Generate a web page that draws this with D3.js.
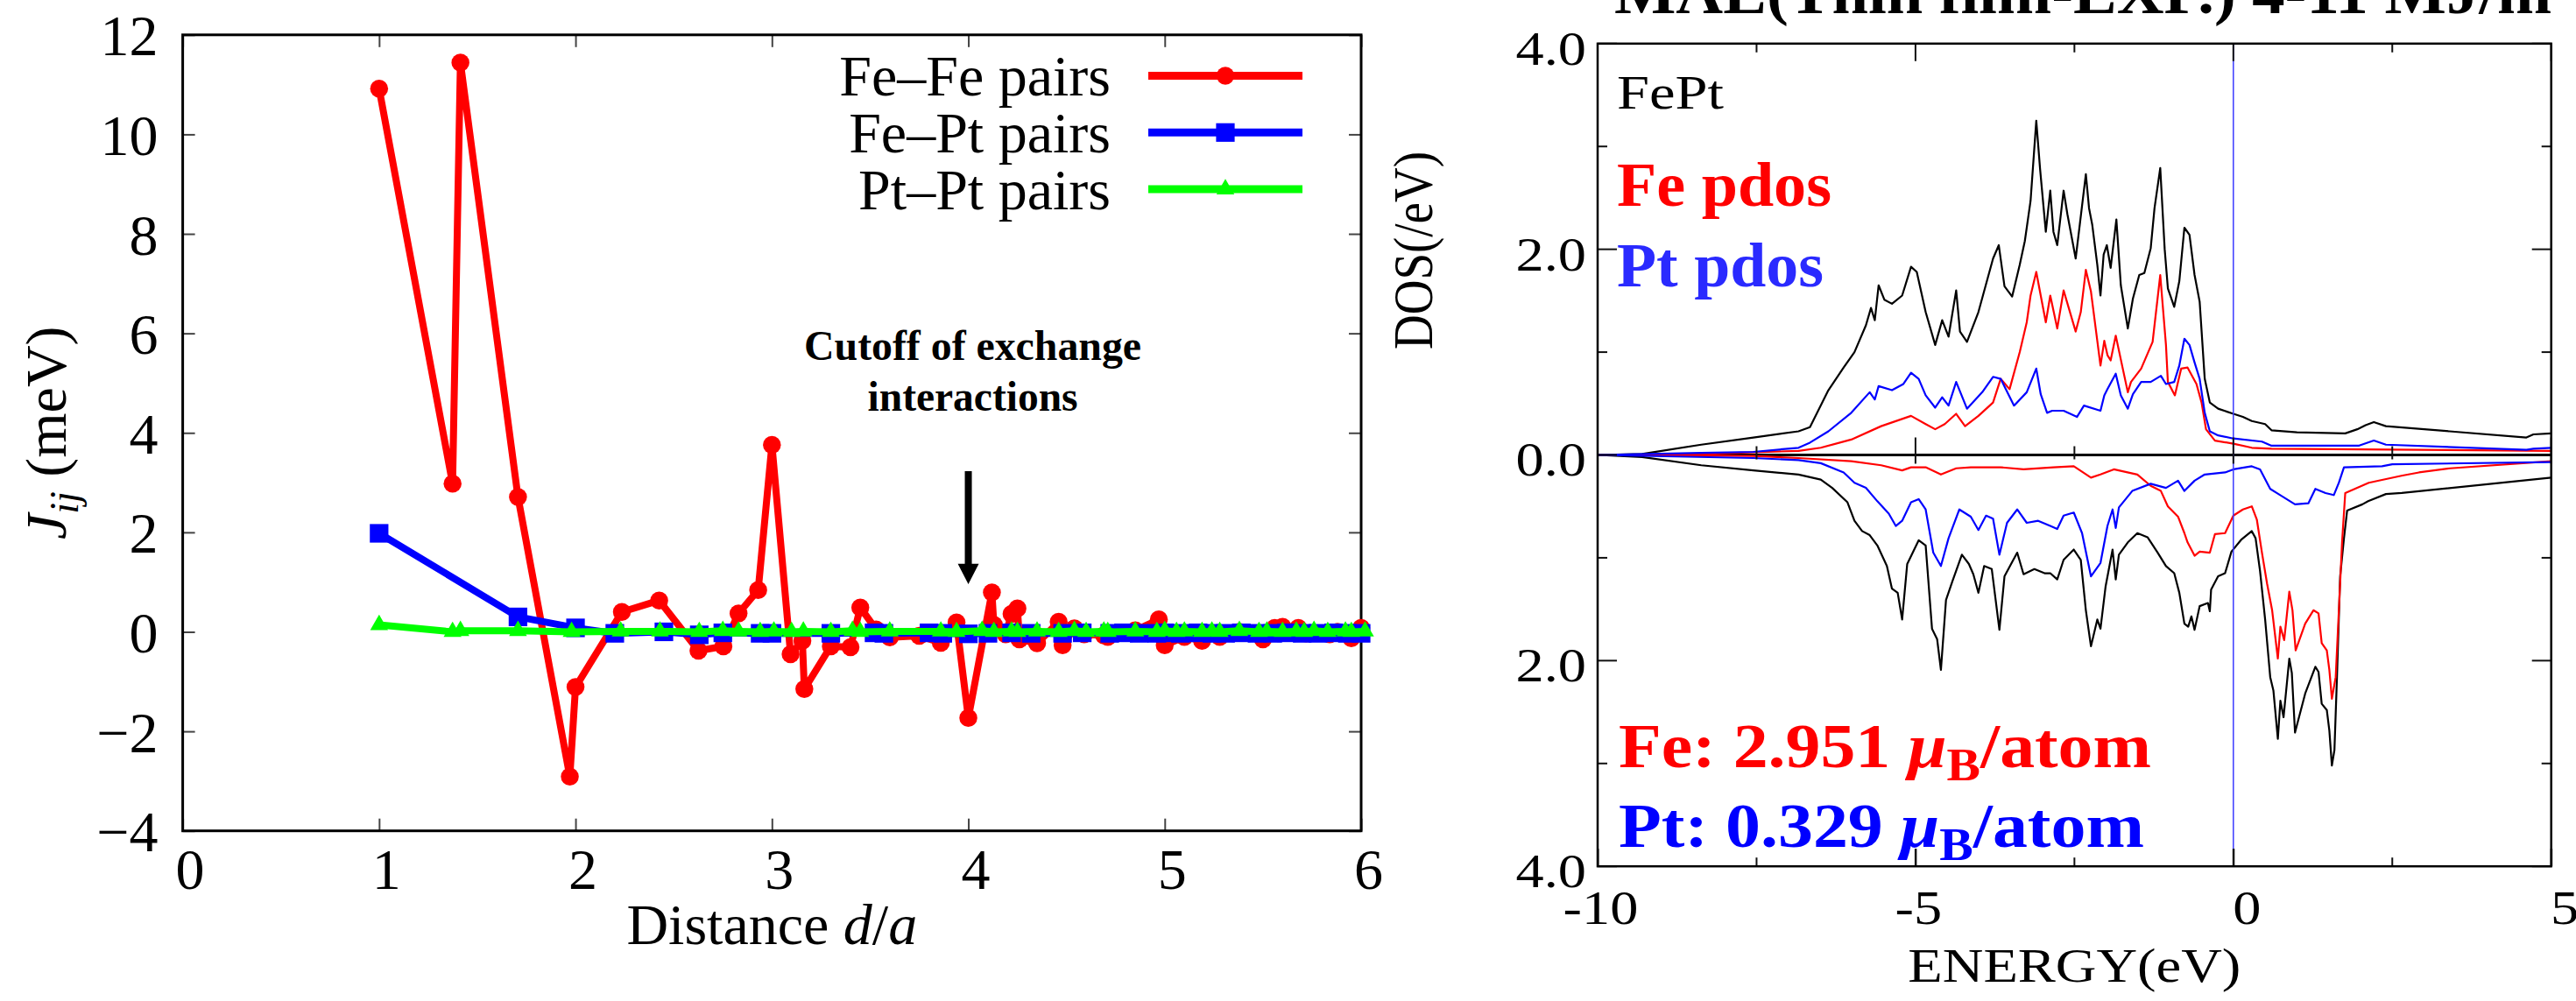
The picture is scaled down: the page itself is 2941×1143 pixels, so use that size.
<!DOCTYPE html>
<html>
<head>
<meta charset="utf-8">
<script src="https://cdn.jsdelivr.net/npm/d3@7"></script>
<style>
  body { margin: 0; background: #fff; }
  svg { display: block; font-family: "Liberation Serif", "Times New Roman", serif; }
</style>
</head>
<body>
<div id="chart-area"></div>
<script>
// ---- DATA: exchange constants J_ij (meV) vs distance d/a ----
var feFePairs = [[1.0,10.92],[1.374,2.98],[1.414,11.44],[1.707,2.71],[1.971,-2.91],[2.0,-1.11],[2.236,0.40],
  [2.426,0.63],[2.626,-0.38],[2.753,-0.29],[2.83,0.37],[2.93,0.84],[3.0,3.76],[3.095,-0.45],[3.155,-0.18],
  [3.165,-1.15],[3.30,-0.29],[3.40,-0.31],[3.45,0.49],[3.53,0.05],[3.60,-0.11],[3.75,-0.08],[3.86,-0.22],
  [3.94,0.19],[4.0,-1.73],[4.12,0.79],[4.13,0.14],[4.19,-0.05],[4.22,0.36],[4.25,0.47],[4.26,-0.15],
  [4.35,-0.23],[4.46,0.2],[4.48,-0.27],[4.54,0.07],[4.59,-0.05],[4.69,-0.07],[4.71,-0.1],[4.85,0.03],
  [4.97,0.25],[5.0,-0.27],[5.10,-0.1],[5.19,-0.18],[5.28,-0.1],[5.38,0.0],[5.50,-0.15],[5.56,0.08],
  [5.60,0.1],[5.68,0.08],[5.72,-0.03],[5.84,-0.05],[5.88,0.0],[5.95,-0.13],[6.0,0.08]];
var fePtPairs = [[1.0,1.98],[1.707,0.30],[2.0,0.08],[2.2,-0.03],[2.45,0.0],[2.63,-0.06],[2.75,-0.02],
  [2.94,-0.03],[3.0,-0.03],[3.3,-0.03],[3.52,-0.02],[3.57,-0.03],[3.8,-0.02],[3.87,-0.03],[4.0,-0.04],
  [4.1,-0.03],[4.22,-0.02],[4.32,-0.03],[4.48,-0.03],[4.58,-0.02],[4.72,-0.03],[4.79,-0.02],[4.87,-0.03],
  [4.96,-0.03],[5.0,-0.02],[5.08,-0.03],[5.17,-0.02],[5.24,-0.03],[5.31,-0.03],[5.39,-0.02],[5.47,-0.03],
  [5.55,-0.03],[5.62,-0.02],[5.70,-0.03],[5.78,-0.03],[5.86,-0.02],[5.93,-0.03],[6.0,-0.03]];
var ptPtPairs = [[1.0,0.14],[1.374,0.0],[1.414,0.02],[1.707,0.02],[1.98,0.0],[2.23,0.01],[2.43,0.01],
  [2.63,0.0],[2.75,0.02],[2.83,0.01],[2.94,0.0],[3.01,0.01],[3.10,0.0],[3.16,0.01],[3.30,0.0],[3.41,0.02],
  [3.45,0.0],[3.60,0.01],[3.86,0.01],[3.94,0.0],[4.07,0.02],[4.13,0.0],[4.22,0.01],[4.25,0.0],[4.35,0.01],
  [4.46,0.0],[4.54,0.02],[4.60,0.0],[4.69,0.01],[4.71,0.0],[4.85,0.01],[4.96,0.0],[5.0,0.02],[5.06,0.0],
  [5.10,0.01],[5.19,0.0],[5.24,0.01],[5.28,0.0],[5.38,0.02],[5.48,0.0],[5.52,0.01],[5.60,0.0],[5.67,0.01],
  [5.71,0.0],[5.76,0.02],[5.83,0.0],[5.92,0.01],[5.95,0.0],[6.02,0.01]];
var pairNames = ["Fe\u2013Fe pairs", "Fe\u2013Pt pairs", "Pt\u2013Pt pairs"];
var distTicks = [0, 1, 2, 3, 4, 5, 6];
var jTicks = [-4, -2, 0, 2, 4, 6, 8, 10, 12];

// ---- DATA: FePt DOS (/eV) vs energy (eV); spin up > 0, spin down < 0 ----
var totalUp = [[-10,0],[-9.3,0.01],[-8.37,0.10],[-7.55,0.17],[-6.84,0.23],[-6.66,0.27],[-6.37,0.63],
  [-6.13,0.85],[-5.96,1.0],[-5.78,1.26],[-5.70,1.43],[-5.64,1.31],[-5.58,1.65],[-5.49,1.51],[-5.37,1.47],
  [-5.21,1.55],[-5.07,1.83],[-4.98,1.78],[-4.84,1.39],[-4.69,1.07],[-4.58,1.31],[-4.48,1.15],[-4.36,1.60],
  [-4.30,1.20],[-4.19,1.10],[-4.01,1.39],[-3.78,1.91],[-3.69,2.04],[-3.60,1.64],[-3.48,1.54],[-3.36,1.85],
  [-3.28,2.08],[-3.19,2.47],[-3.10,3.25],[-3.04,2.78],[-2.95,2.17],[-2.88,2.57],[-2.83,2.17],[-2.77,2.04],
  [-2.67,2.57],[-2.61,2.34],[-2.48,1.91],[-2.32,2.73],[-2.27,2.40],[-2.22,2.24],[-2.14,1.85],[-2.09,1.55],
  [-2.04,1.95],[-1.99,2.04],[-1.93,1.82],[-1.84,2.29],[-1.77,1.65],[-1.66,1.23],[-1.58,1.52],[-1.48,1.75],
  [-1.40,1.77],[-1.30,2.01],[-1.24,2.40],[-1.15,2.79],[-1.08,2.0],[-1.03,1.62],[-0.93,1.44],[-0.85,1.69],
  [-0.77,2.21],[-0.69,2.14],[-0.61,1.75],[-0.53,1.49],[-0.45,0.74],[-0.37,0.51],[-0.24,0.45],[0,0.40],
  [0.15,0.37],[0.29,0.33],[0.50,0.30],[0.60,0.24],[1.0,0.22],[1.76,0.21],[1.95,0.25],[2.08,0.29],
  [2.21,0.32],[2.40,0.28],[3.4,0.23],[4.61,0.17],[4.72,0.20],[5,0.21]];
var feUp = [[-10,0],[-9,0],[-8.37,0.01],[-6.84,0.04],[-6.49,0.07],[-6.01,0.15],[-5.54,0.28],[-5.07,0.38],
  [-4.84,0.30],[-4.69,0.25],[-4.54,0.30],[-4.36,0.40],[-4.22,0.28],[-4.01,0.38],[-3.78,0.51],[-3.66,0.74],
  [-3.52,0.64],[-3.36,1.0],[-3.25,1.29],[-3.19,1.55],[-3.10,1.78],[-3.03,1.55],[-2.95,1.29],[-2.88,1.55],
  [-2.77,1.23],[-2.67,1.60],[-2.48,1.20],[-2.40,1.39],[-2.32,1.80],[-2.24,1.59],[-2.09,0.87],[-2.03,1.11],
  [-1.98,0.97],[-1.93,0.92],[-1.85,1.16],[-1.66,0.61],[-1.61,0.71],[-1.45,0.84],[-1.27,1.10],[-1.15,1.75],
  [-1.06,1.07],[-1.03,0.71],[-0.92,0.58],[-0.82,0.84],[-0.72,0.85],[-0.58,0.69],[-0.50,0.51],[-0.43,0.25],
  [-0.29,0.14],[0,0.11],[0.29,0.07],[0.60,0.06],[5,0.04]];
var ptUp = [[-10,0],[-8.37,0.02],[-7.55,0.03],[-6.84,0.07],[-6.66,0.12],[-6.37,0.23],[-6.01,0.41],
  [-5.72,0.61],[-5.64,0.54],[-5.58,0.67],[-5.37,0.63],[-5.19,0.69],[-5.07,0.80],[-4.95,0.74],[-4.84,0.58],
  [-4.69,0.46],[-4.58,0.56],[-4.48,0.48],[-4.36,0.71],[-4.19,0.45],[-3.95,0.61],[-3.78,0.76],[-3.66,0.74],
  [-3.45,0.48],[-3.25,0.61],[-3.10,0.84],[-3.03,0.59],[-2.93,0.41],[-2.85,0.43],[-2.67,0.43],[-2.46,0.37],
  [-2.35,0.48],[-2.09,0.43],[-2.03,0.58],[-1.98,0.64],[-1.85,0.79],[-1.77,0.58],[-1.66,0.45],[-1.58,0.59],
  [-1.45,0.71],[-1.30,0.71],[-1.14,0.77],[-1.06,0.69],[-0.93,0.71],[-0.85,0.87],[-0.77,1.13],[-0.69,1.07],
  [-0.61,0.90],[-0.53,0.74],[-0.45,0.41],[-0.37,0.23],[-0.24,0.19],[0,0.16],[0.45,0.13],[0.60,0.09],
  [1.97,0.09],[2.21,0.14],[2.40,0.10],[4.61,0.05],[4.72,0.06],[5,0.07]];
var totalDown = [[-10,0],[-9.3,-0.02],[-8.37,-0.10],[-7.55,-0.15],[-6.84,-0.19],[-6.49,-0.24],[-6.31,-0.32],
  [-6.07,-0.46],[-5.96,-0.64],[-5.84,-0.74],[-5.72,-0.78],[-5.60,-0.88],[-5.45,-1.08],[-5.37,-1.30],
  [-5.28,-1.34],[-5.21,-1.60],[-5.13,-1.06],[-4.95,-0.83],[-4.84,-0.88],[-4.74,-1.69],[-4.66,-1.79],
  [-4.60,-2.09],[-4.52,-1.41],[-4.42,-1.23],[-4.27,-0.97],[-4.16,-1.06],[-4.09,-1.16],[-4.01,-1.34],
  [-3.92,-1.08],[-3.80,-1.11],[-3.68,-1.70],[-3.60,-1.18],[-3.40,-0.95],[-3.30,-1.16],[-3.13,-1.11],
  [-2.97,-1.15],[-2.88,-1.15],[-2.77,-1.21],[-2.67,-1.02],[-2.51,-0.92],[-2.40,-1.02],[-2.32,-1.51],
  [-2.24,-1.86],[-2.14,-1.60],[-2.09,-1.69],[-2.01,-1.28],[-1.90,-0.92],[-1.85,-1.21],[-1.80,-0.97],
  [-1.66,-0.85],[-1.51,-0.76],[-1.35,-0.80],[-1.19,-0.95],[-1.06,-1.08],[-0.93,-1.15],[-0.85,-1.34],
  [-0.77,-1.64],[-0.71,-1.67],[-0.66,-1.57],[-0.61,-1.70],[-0.53,-1.47],[-0.40,-1.44],[-0.37,-1.52],
  [-0.35,-1.31],[-0.24,-1.18],[-0.13,-1.15],[-0.03,-0.94],[0.13,-0.82],[0.29,-0.74],[0.35,-0.81],
  [0.42,-1.13],[0.50,-1.60],[0.58,-2.16],[0.63,-2.29],[0.70,-2.76],[0.74,-2.39],[0.79,-2.55],[0.88,-1.98],
  [0.92,-2.12],[0.97,-2.70],[1.02,-2.58],[1.13,-2.32],[1.29,-2.06],[1.34,-2.11],[1.39,-2.42],[1.47,-2.48],
  [1.51,-2.68],[1.55,-3.02],[1.59,-2.87],[1.63,-2.16],[1.68,-1.18],[1.74,-0.81],[1.79,-0.54],[2.03,-0.48],
  [2.12,-0.45],[2.40,-0.38],[2.65,-0.37],[5,-0.22]];
var feDown = [[-10,0],[-7.55,-0.01],[-6.84,-0.03],[-6.01,-0.06],[-5.54,-0.10],[-5.21,-0.15],[-5.07,-0.12],
  [-4.84,-0.12],[-4.60,-0.19],[-4.36,-0.13],[-4.13,-0.12],[-3.66,-0.12],[-3.30,-0.14],[-2.83,-0.12],
  [-2.51,-0.11],[-2.24,-0.22],[-2.09,-0.19],[-1.88,-0.14],[-1.51,-0.19],[-1.30,-0.30],[-1.14,-0.35],
  [-1.03,-0.50],[-0.87,-0.60],[-0.77,-0.76],[-0.72,-0.85],[-0.61,-0.98],[-0.53,-0.94],[-0.37,-0.95],
  [-0.29,-0.77],[-0.13,-0.76],[0,-0.59],[0.15,-0.53],[0.29,-0.50],[0.37,-0.63],[0.45,-0.95],[0.53,-1.25],
  [0.61,-1.51],[0.70,-1.98],[0.74,-1.67],[0.80,-1.80],[0.88,-1.33],[0.93,-1.51],[0.98,-1.90],[1.13,-1.64],
  [1.26,-1.51],[1.34,-1.54],[1.39,-1.83],[1.47,-1.90],[1.51,-2.09],[1.55,-2.37],[1.61,-2.16],[1.66,-1.51],
  [1.71,-0.85],[1.76,-0.37],[2.13,-0.27],[2.66,-0.20],[2.92,-0.17],[3.41,-0.13],[5,-0.06]];
var ptDown = [[-10,0],[-7.55,-0.03],[-6.84,-0.05],[-6.49,-0.08],[-6.13,-0.17],[-5.96,-0.27],[-5.78,-0.32],
  [-5.60,-0.45],[-5.42,-0.57],[-5.31,-0.69],[-5.21,-0.64],[-5.07,-0.46],[-4.95,-0.43],[-4.84,-0.53],
  [-4.72,-0.95],[-4.60,-1.08],[-4.48,-0.81],[-4.31,-0.53],[-4.13,-0.60],[-4.01,-0.73],[-3.89,-0.59],
  [-3.78,-0.62],[-3.68,-0.97],[-3.56,-0.66],[-3.40,-0.53],[-3.25,-0.66],[-3.07,-0.64],[-2.88,-0.69],
  [-2.77,-0.72],[-2.67,-0.59],[-2.51,-0.56],[-2.38,-0.76],[-2.24,-1.18],[-2.09,-1.05],[-1.98,-0.69],
  [-1.90,-0.53],[-1.85,-0.71],[-1.80,-0.51],[-1.59,-0.35],[-1.30,-0.28],[-1.06,-0.32],[-0.87,-0.25],
  [-0.77,-0.35],[-0.61,-0.25],[-0.45,-0.19],[-0.13,-0.17],[0,-0.14],[0.29,-0.11],[0.42,-0.14],[0.58,-0.33],
  [0.71,-0.38],[0.97,-0.48],[1.18,-0.47],[1.29,-0.33],[1.45,-0.37],[1.58,-0.39],[1.66,-0.27],[1.74,-0.12],
  [2.34,-0.11],[2.50,-0.09],[5,-0.07]];
var energyTicks = [-10, -5, 0, 5];
var energyMinor = [-7.5, -2.5, 2.5];
var dosTicks = [-4, -2, 0, 2, 4];
var dosMinor = [-3, -1, 1, 3];
var momentAtoms = ["Fe", "Pt"];
var momentValues = ["2.951", "0.329"];

var RED = "#ff0000", BLUE = "#0000ff", GREEN = "#00ff00";

var svg = d3.select("#chart-area")
    .append("svg")
        .attr("width", 2941)
        .attr("height", 1143);

function styleAxis(g, size) {
    g.attr("font-family", null).attr("font-size", size);
    g.select(".domain").remove();
    g.selectAll(".tick line").attr("stroke", "#444").attr("stroke-width", 2);
    g.selectAll(".tick text").attr("fill", "#000");
}

// =============== LEFT PANEL : J_ij ===============
var L = { left: 208.6, right: 1554, top: 39.8, bottom: 948.7 };

var x1 = d3.scaleLinear().domain([0, 6]).range([L.left, L.right]);
var y1 = d3.scaleLinear().domain([-4, 12]).range([L.bottom, L.top]);

var gl = svg.append("g");

// AXES (inward ticks)
var xb = gl.append("g")
    .attr("transform", "translate(0," + L.bottom + ")")
    .call(d3.axisBottom(x1).tickValues(distTicks).tickSizeInner(-14).tickSizeOuter(0).tickPadding(19)
        .tickFormat(d3.format("d")));
styleAxis(xb, 66);
xb.selectAll(".tick text").attr("dx", 8);

var xt = gl.append("g")
    .attr("transform", "translate(0," + L.top + ")")
    .call(d3.axisTop(x1).tickValues(distTicks).tickSizeInner(-14).tickSizeOuter(0).tickFormat(""));
styleAxis(xt, 66);

var yl = gl.append("g")
    .attr("transform", "translate(" + L.left + ",0)")
    .call(d3.axisLeft(y1).tickValues(jTicks).tickSizeInner(-14).tickSizeOuter(0).tickPadding(28));
styleAxis(yl, 66);
yl.selectAll(".tick text").attr("dy", "0.35em");

var yr = gl.append("g")
    .attr("transform", "translate(" + L.right + ",0)")
    .call(d3.axisRight(y1).tickValues(jTicks).tickSizeInner(-14).tickSizeOuter(0).tickFormat(""));
styleAxis(yr, 66);

gl.append("rect")
    .attr("x", L.left).attr("y", L.top)
    .attr("width", L.right - L.left).attr("height", L.bottom - L.top)
    .attr("fill", "none").attr("stroke", "#000").attr("stroke-width", 3);

// LABELS
gl.append("text")
    .attr("x", (L.left + L.right) / 2)
    .attr("y", 1078)
    .attr("font-size", 66)
    .attr("text-anchor", "middle")
    .html('Distance <tspan font-style="italic">d</tspan>/<tspan font-style="italic">a</tspan>');

gl.append("text")
    .attr("transform", "translate(75," + (L.top + L.bottom) / 2 + ") rotate(-90)")
    .attr("font-size", 66)
    .attr("text-anchor", "middle")
    .html('<tspan font-style="italic">J</tspan><tspan font-style="italic" font-size="46" dy="14">ij</tspan><tspan dy="-14"> (meV)</tspan>');

// SERIES
var pairSeries = [
    { data: feFePairs, color: RED, symbol: d3.symbolCircle, size: 330 },
    { data: fePtPairs, color: BLUE, symbol: d3.symbolSquare, size: 450 },
    { data: ptPtPairs, color: GREEN, symbol: d3.symbolTriangle, size: 180 }
];

var jLine = d3.line()
    .x(function(d) { return x1(d[0]); })
    .y(function(d) { return y1(d[1]); });

pairSeries.forEach(function(s) {
    gl.append("path")
        .attr("d", jLine(s.data))
        .attr("fill", "none")
        .attr("stroke", s.color)
        .attr("stroke-width", 8)
        .attr("stroke-linejoin", "round");
    gl.selectAll(null)
        .data(s.data)
        .enter().append("path")
            .attr("d", d3.symbol(s.symbol, s.size))
            .attr("fill", s.color)
            .attr("transform", function(d) { return "translate(" + x1(d[0]) + "," + y1(d[1]) + ")"; });
});

// LEGEND
pairNames.forEach(function(name, i) {
    var row = gl.append("g").attr("transform", "translate(0," + (86.5 + i * 64.8) + ")");
    row.append("text")
        .attr("x", 1268).attr("y", 22.5)
        .attr("font-size", 66)
        .attr("text-anchor", "end")
        .text(name);
    row.append("line")
        .attr("x1", 1311).attr("x2", 1487)
        .attr("stroke", pairSeries[i].color)
        .attr("stroke-width", 9);
    row.append("path")
        .attr("d", d3.symbol(pairSeries[i].symbol, pairSeries[i].size))
        .attr("fill", pairSeries[i].color)
        .attr("transform", "translate(1399,0)");
});

// CUTOFF ANNOTATION
var cut = gl.append("text")
    .attr("font-size", 48)
    .attr("font-weight", "bold")
    .attr("text-anchor", "middle");
cut.append("tspan").attr("x", x1(4) + 5).attr("y", 411).attr("textLength", 385).attr("lengthAdjust", "spacingAndGlyphs").text("Cutoff of exchange");
cut.append("tspan").attr("x", x1(4) + 5).attr("y", 469).attr("textLength", 240).attr("lengthAdjust", "spacingAndGlyphs").text("interactions");

gl.append("line")
    .attr("x1", x1(4)).attr("x2", x1(4))
    .attr("y1", y1(3.23)).attr("y2", y1(1.35))
    .attr("stroke", "#000").attr("stroke-width", 8);
gl.append("path")
    .attr("d", "M" + (x1(4) - 12) + "," + y1(1.37) + "L" + (x1(4) + 12) + "," + y1(1.37) + "L" + x1(4) + "," + y1(0.96) + "Z")
    .attr("fill", "#000");

// =============== RIGHT PANEL : DOS ===============
var R = { left: 1824, right: 2912.7, top: 49.8, bottom: 989.2 };
var SX = 1.17;   // panel text is stretched horizontally

var x2 = d3.scaleLinear().domain([-10, 5]).range([R.left, R.right]);
var y2 = d3.scaleLinear().domain([-4, 4]).range([R.bottom, R.top]);

var gr = svg.append("g");

// zero line
gr.append("line")
    .attr("x1", R.left).attr("x2", R.right)
    .attr("y1", y2(0)).attr("y2", y2(0))
    .attr("stroke", "#000").attr("stroke-width", 3);

var dosLine = d3.line()
    .x(function(d) { return x2(d[0]); })
    .y(function(d) { return y2(d[1]); });

[[totalUp, "#000"], [totalDown, "#000"], [feUp, RED], [feDown, RED], [ptUp, BLUE], [ptDown, BLUE]]
    .forEach(function(s) {
        gr.append("path")
            .attr("d", dosLine(s[0]))
            .attr("fill", "none")
            .attr("stroke", s[1])
            .attr("stroke-width", 2.2)
            .attr("stroke-linejoin", "round");
    });

// fermi level
gr.append("line")
    .attr("x1", x2(0)).attr("x2", x2(0))
    .attr("y1", R.top).attr("y2", R.bottom)
    .attr("stroke", "#3a3aff").attr("stroke-width", 1.5);

// TICKS
function dosTickStyle(g) {
    g.attr("font-family", null).attr("font-size", 55);
    g.select(".domain").remove();
    g.selectAll(".tick line").attr("stroke", "#111").attr("stroke-width", 2);
    g.selectAll(".tick text").attr("fill", "#000");
}

var ex = gr.append("g")
    .attr("transform", "translate(0," + R.bottom + ")")
    .call(d3.axisBottom(x2).tickValues(energyTicks).tickSizeInner(-20).tickSizeOuter(0).tickPadding(27)
        .tickFormat(function(d) { return String(d); }));
dosTickStyle(ex);
ex.selectAll(".tick text")
    .attr("transform", "scale(" + SX + ",1)")
    .attr("x", function(d) { return (d < 0 ? 3 : 15) / SX; });

[[R.bottom, -20, -10], [R.top, 20, 10], [y2(0), -20, -10], [y2(0), 10, 5]].forEach(function(t) {
    gr.selectAll(null).data(energyTicks.concat(energyMinor)).enter().append("line")
        .attr("x1", function(d) { return x2(d); })
        .attr("x2", function(d) { return x2(d); })
        .attr("y1", t[0])
        .attr("y2", function(d) { return t[0] + (energyTicks.indexOf(d) >= 0 ? t[1] : t[2]); })
        .attr("stroke", "#111").attr("stroke-width", 2);
});

[[R.left, 22, 11], [R.right, -22, -11]].forEach(function(t) {
    gr.selectAll(null).data(dosTicks.concat(dosMinor)).enter().append("line")
        .attr("y1", function(d) { return y2(d); })
        .attr("y2", function(d) { return y2(d); })
        .attr("x1", t[0])
        .attr("x2", function(d) { return t[0] + (dosTicks.indexOf(d) >= 0 ? t[1] : t[2]); })
        .attr("stroke", "#111").attr("stroke-width", 2);
});

var ey = gr.append("g")
    .attr("transform", "translate(" + R.left + ",0)")
    .call(d3.axisLeft(y2).tickValues(dosTicks).tickSize(0).tickPadding(13)
        .tickFormat(function(d) { return d3.format(".1f")(Math.abs(d)); }));
dosTickStyle(ey);
ey.selectAll(".tick text")
    .attr("transform", "scale(" + SX + ",1)")
    .attr("x", -13 / SX)
    .attr("dy", "0.425em");

gr.append("rect")
    .attr("x", R.left).attr("y", R.top)
    .attr("width", R.right - R.left).attr("height", R.bottom - R.top)
    .attr("fill", "none").attr("stroke", "#000").attr("stroke-width", 2.5);

// LABELS
gr.append("text")
    .attr("x", (R.left + R.right) / 2).attr("y", 1121)
    .attr("font-size", 55)
    .attr("text-anchor", "middle")
    .attr("textLength", 380).attr("lengthAdjust", "spacingAndGlyphs")
    .text("ENERGY(eV)");

gr.append("text")
    .attr("transform", "translate(1635,286) scale(" + SX + ",1) rotate(-90)")
    .attr("font-size", 55)
    .attr("text-anchor", "middle")
    .text("DOS(/eV)");

gr.append("text")
    .attr("x", 1843).attr("y", 15)
    .attr("font-size", 70).attr("font-weight", "bold")
    .attr("textLength", 1070).attr("lengthAdjust", "spacingAndGlyphs")
    .text("MAE(Thin film-EXP.) 4-11 MJ/m");

gr.append("text")
    .attr("x", 1846).attr("y", 124.4)
    .attr("font-size", 54)
    .attr("textLength", 122).attr("lengthAdjust", "spacingAndGlyphs")
    .text("FePt");

gr.append("text")
    .attr("x", 1846).attr("y", 235.4)
    .attr("font-size", 72).attr("font-weight", "bold").attr("fill", RED)
    .attr("textLength", 245).attr("lengthAdjust", "spacingAndGlyphs")
    .text("Fe pdos");

gr.append("text")
    .attr("x", 1846).attr("y", 327.2)
    .attr("font-size", 72).attr("font-weight", "bold").attr("fill", "#2a2aff")
    .attr("textLength", 236).attr("lengthAdjust", "spacingAndGlyphs")
    .text("Pt pdos");

// magnetic moments
momentAtoms.forEach(function(atom, i) {
    var t = gr.append("text")
        .attr("x", 1848).attr("y", [876.4, 967.4][i])
        .attr("font-size", 72).attr("font-weight", "bold")
        .attr("fill", [RED, BLUE][i])
        .attr("textLength", [608, 600][i]).attr("lengthAdjust", "spacingAndGlyphs");
    t.append("tspan").text(atom + ": " + momentValues[i] + " ");
    t.append("tspan").attr("font-style", "italic").text("\u03bc");
    t.append("tspan").attr("font-size", 52).attr("dy", 15).text("B");
    t.append("tspan").attr("dy", -15).text("/atom");
});
</script>
</body>
</html>
